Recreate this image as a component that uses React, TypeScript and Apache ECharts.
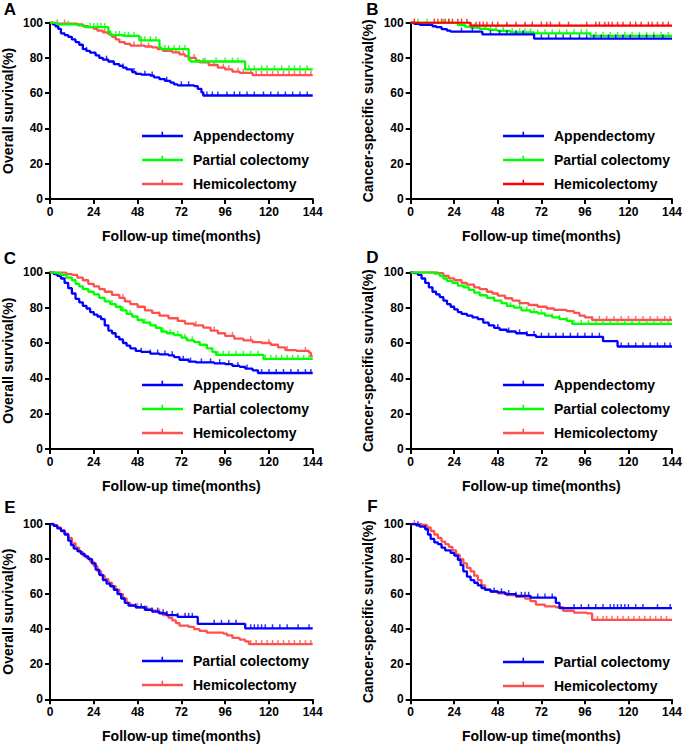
import React, { useEffect, useRef } from 'react';
import * as echarts from 'echarts';

// ---------- axis ticks / titles ----------
const xTicks = [0, 24, 48, 72, 96, 120, 144];
const yTicks = [0, 20, 40, 60, 80, 100];
const xTitle = 'Follow-up time(months)';
const osTitle = 'Overall survival(%)';
const cssTitle = 'Cancer-specific survival(%)';
const groupNames = ['Appendectomy', 'Partial colectomy', 'Hemicolectomy'];

// ---------- Panel A (overall survival) : [month, survival %] steps ----------
const A_appendectomy = [[0,100],[1.5,99],[3,98],[4.5,96.5],[6,94],[8,93],[10,92],[12,90.5],[14,89],[16,87.5],[18,85],[20,84],[22,83],[25,81.5],[27,80],[29,79],[32,78],[35,76.5],[38,75.5],[40,74.5],[42,73.5],[45,72],[47,71],[50,70.5],[55,70],[57,69],[60,68],[63,67],[66,66],[68,65],[70,64.5],[79,64],[81,62.5],[83,60.5],[84,58.7],[144,58.7]];
const A_partial = [[0,100],[4,99],[15,98.5],[19,97.5],[32,95],[33,93],[40,92.5],[49,90],[60,86],[61,85],[76,79],[77,78],[107,73.5],[144,73.5]];
const A_hemi = [[0,100],[3,99.5],[15,99],[18,98],[21,97.5],[24,96.5],[26,95.5],[29,94.5],[32,93.5],[34,92],[36,90.5],[38,89],[41,88],[44,87],[52,86.5],[56,86],[59,85],[62,84],[67,83.2],[71,82],[74,81],[76,80],[80,78.5],[82,77.5],[87,76],[92,74.5],[96,73.5],[100,72.2],[104,71.5],[111,70.3],[144,70.3]];
const A_appendectomyCensor = [20,31,40,46,52,56,64,72,76,86,89,92,97,101,104,108,112,117,121,125,129,133,137,141];
const A_partialCensor = [10,22,24,26,28,30,36,38,41,43,46,50,52,55,58,63,65,68,71,74,80,85,91,96,100,103,109,112,116,119,123,127,131,134,137,141];
const A_hemiCensor = [4,8,30,46,50,54,65,69,73,79,84,90,95,98,103,106,110,113,116,119,122,125,128,131,134,137,140,143];

// ---------- Panel B (cancer-specific survival) ----------
const B_appendectomy = [[0,100],[2,99.3],[5,98.8],[12,98],[14,97.5],[17,96.4],[20,95.5],[22,94.9],[39.5,93.4],[68,91],[144,91]];
const B_partial = [[0,100],[14,100],[26,98.7],[30,97.8],[33,97.2],[38,96.5],[43,95.9],[48,95.3],[55,94.5],[68,94],[99,92.5],[144,92.5]];
const B_hemi = [[0,100],[33,98.3],[144,98.3]];
const B_appendectomyCensor = [28,34,44,49,53,58,62,72,76,80,84,88,93,97,101,105,109,113,117,121,126,130,134,139];
const B_partialCensor = [4,9,18,21,35,38,41,44,47,51,56,60,63,66,70,74,78,82,86,90,94,97,102,106,110,114,118,122,126,130,134,138,142];
const B_hemiCensor = [2,13,15,17,19,21,23,26,28,31,36,38,40,42,45,48,53,58,63,67,72,75,77,82,87,97,102,104,107,109,111,114,117,121,124,127,131,133,136,139,142];

// ---------- Panel C (overall survival) ----------
const C_appendectomy = [[0,100],[2,99],[4,98],[6,96.5],[8,94],[10,91],[12,88],[14,85],[16,83],[18,81],[20,79.5],[22,77.5],[24,76],[26,75],[28,73.5],[30,70],[32,67],[34,65.5],[36,63.5],[38,62],[40,60],[42,58.5],[44,57],[47,55.5],[50,55],[55,54],[60,53.5],[65,53],[68,52],[71,50.5],[76,49.5],[80,49],[90,48.5],[96,48],[100,47],[104,46.5],[107,45.5],[111,44.5],[114,43],[144,43]];
const C_partial = [[0,100],[3,99.5],[6,98.5],[9,97],[12,95.5],[14,93.5],[16,92],[18,90.5],[21,89],[24,87.5],[27,85.5],[30,83.5],[33,82],[36,80.5],[39,78.5],[42,76.5],[45,75],[48,73],[51,71.5],[55,70],[58,68.5],[61,66.5],[64,65.5],[68,64.5],[72,63],[75,61.5],[79,60.5],[82,59],[86,57],[89,55],[91,53.3],[117,51],[144,51]];
const C_hemi = [[0,100],[5,99.8],[9,99],[12,98.5],[15,97],[18,95.5],[21,93.5],[24,92],[27,90.5],[30,89],[34,87.2],[38,85.5],[41,83.5],[44,82],[48,80.5],[52,78.5],[56,77],[60,75.5],[65,74],[70,72.5],[74,71],[79,70],[84,68.7],[88,67],[92,65.5],[96,64],[101,62.5],[106,61.5],[111,60.5],[116,60],[121,59],[125,57.5],[129,56],[135,55.5],[142,54.5],[143,52.5],[144,52.5]];
const C_appendectomyCensor = [50,55,59,63,67,73,77,83,88,93,98,103,108,116,120,124,128,132,136,140,143];
const C_partialCensor = [34,40,44,48,52,55,58,62,66,70,74,78,82,86,92,95,98,102,106,110,114,118,121,124,127,130,133,136,139,142];
const C_hemiCensor = [40,60,70,80,90,100,110,120,130,140];

// ---------- Panel D (cancer-specific survival) ----------
const D_appendectomy = [[0,100],[2,99.5],[4,98.5],[6,96.5],[8,94],[10,91.5],[12,89],[14,87.5],[16,86],[18,84],[20,82],[22,80.5],[24,79],[26,77.5],[28,76.5],[31,75.5],[34,74.5],[37,73.5],[40,71.5],[43,70],[46,68.5],[49,67.5],[53,66.5],[58,65.5],[64,64.5],[69,63.5],[106,61],[114,58],[144,58]];
const D_partial = [[0,100],[10,100],[13,99.3],[16,98],[18,96.5],[20,95],[23,94],[26,92.5],[29,91.5],[32,90],[35,88.5],[38,87],[42,85.5],[46,84],[50,82.5],[53,81],[57,80],[61,78.5],[66,77.5],[70,76.8],[74,75.5],[78,74.5],[82,73.5],[86,72.5],[89,70.8],[144,70.8]];
const D_hemi = [[0,100],[12,100],[15,99.5],[18,98],[21,96.6],[24,95.5],[28,94],[31,93],[35,91.5],[38,90.5],[42,89],[45,88],[48,86.8],[52,85.3],[56,84],[60,82.5],[65,81.5],[70,80.5],[75,79.5],[79,78.7],[86,78],[90,77],[93,75.5],[96,74.5],[100,73],[144,73]];
const D_appendectomyCensor = [48,54,60,64,68,72,76,80,84,88,92,96,100,104,116,120,124,128,132,136,140,143];
const D_partialCensor = [30,38,46,55,60,64,68,72,78,82,86,90,94,98,102,106,110,114,118,122,126,130,134,138,142];
const D_hemiCensor = [100,104,108,112,116,120,124,128,132,136,140,143];

// ---------- Panel E (overall survival) ----------
const E_partial = [[0,100],[2,99],[4,97.5],[6,96],[8,94],[10,90.5],[11.5,88],[13,86],[15,84.5],[17,83],[19,81.5],[21,80],[23,77.5],[25,74],[27,71],[29,68],[31,66],[33,64.5],[35,62.5],[37,60],[39,57.5],[41,55],[43,53.5],[47,52.5],[52,51],[56,50],[60,49],[64,48],[70,47],[81,43],[107,40.5],[144,40.5]];
const E_hemi = [[0,100],[2,99.3],[4,98],[6,96.5],[8,94.5],[10,92],[12,89],[14,86.5],[16,84],[18,82],[20,80.5],[22,78.5],[24,76],[26,73],[28,70.5],[30,68.5],[32,66.5],[34,64.5],[36,62.5],[38,60],[40,57.5],[42,55],[44,53.5],[47,52.5],[52,51.5],[56,50.5],[59,49.5],[62,48],[65,46.5],[67,45],[69,43.5],[71,42],[76,41.3],[79,40],[82,39],[86,38],[95,37.5],[97,36.5],[100,35],[104,34],[107,33],[109,31.5],[144,31.5]];
const E_partialCensor = [47,50,53,56,59,62,64,67,70,74,76,78,90,94,98,102,110,112,114,116,118,122,126,130,136,142];
const E_hemiCensor = [48,52,60,64,110,113,116,119,122,125,128,131,134,137,140,143];

// ---------- Panel F (cancer-specific survival) ----------
const F_partial = [[0,100],[3,99.3],[5,98.5],[8,97],[9.5,94],[11,91.5],[13,89.5],[15,88.5],[17,86.5],[19,85],[22,83.5],[24,82],[26,79.5],[27.5,76.5],[29,73],[31,70],[33,68],[35,66.5],[37,65],[39,63.5],[41,62.5],[44,61.5],[48,61],[52,60],[58,59],[66,58],[80,55],[82,52],[144,52]];
const F_hemi = [[0,100],[6,99.5],[9,98],[11,96],[13,94],[15,92],[17,90],[19,88.5],[21,87],[23,85],[25,82.5],[27,80],[29,77.5],[31,75],[33,73],[35,70.5],[37,68],[39,65],[41,62.5],[44,61.5],[48,60.5],[53,59.5],[58,58.5],[63,57.5],[66,56],[69,54],[74,53],[80,52.5],[84,50.5],[90,49.5],[97,49],[100,45.3],[144,45.3]];
const F_partialCensor = [4,8,46,50,54,58,61,63,65,70,74,78,90,94,98,102,106,110,112,114,116,118,120,124,128,136,143];
const F_hemiCensor = [2,100,103,106,108,111,114,117,120,123,126,129,132,135,138,141];

// ---------- styling / layout ----------
const FONT = '"Liberation Sans", Arial, Helvetica, sans-serif';
const BLUE = '#0000ff';
const GREEN = '#00ff00';
const SALMON = '#ff5050';
const RED = '#ff0000';

type Curve = { name: string; color: string; steps: number[][]; censor: number[] };
type Panel = {
  letter: string; yTitle: string;
  grid: { left: number; top: number; width: number; height: number };
  letterPos: [number, number];
  legend: { left: number; top: number };
  yNameGap: number;
  curves: Curve[]; // legend order
  drawOrder: number[];
};

const panels: Panel[] = [
  {
    letter: 'A', yTitle: osTitle, grid: { left: 49, top: 22.7, width: 263.7, height: 176.3 },
    letterPos: [10, 9.5], legend: { left: 142, top: 128 }, yNameGap: 35,
    curves: [
      { name: groupNames[0], color: BLUE, steps: A_appendectomy, censor: A_appendectomyCensor },
      { name: groupNames[1], color: GREEN, steps: A_partial, censor: A_partialCensor },
      { name: groupNames[2], color: SALMON, steps: A_hemi, censor: A_hemiCensor },
    ], drawOrder: [0, 2, 1],
  },
  {
    letter: 'B', yTitle: cssTitle, grid: { left: 410.7, top: 22.7, width: 263.6, height: 176.3 },
    letterPos: [372.5, 9], legend: { left: 503, top: 128 }, yNameGap: 36,
    curves: [
      { name: groupNames[0], color: BLUE, steps: B_appendectomy, censor: B_appendectomyCensor },
      { name: groupNames[1], color: GREEN, steps: B_partial, censor: B_partialCensor },
      { name: groupNames[2], color: RED, steps: B_hemi, censor: B_hemiCensor },
    ], drawOrder: [1, 0, 2],
  },
  {
    letter: 'C', yTitle: osTitle, grid: { left: 49, top: 272.3, width: 263.7, height: 176.7 },
    letterPos: [10, 258], legend: { left: 142, top: 377 }, yNameGap: 35,
    curves: [
      { name: groupNames[0], color: BLUE, steps: C_appendectomy, censor: C_appendectomyCensor },
      { name: groupNames[1], color: GREEN, steps: C_partial, censor: C_partialCensor },
      { name: groupNames[2], color: SALMON, steps: C_hemi, censor: C_hemiCensor },
    ], drawOrder: [0, 2, 1],
  },
  {
    letter: 'D', yTitle: cssTitle, grid: { left: 410.7, top: 272.3, width: 263.6, height: 176.7 },
    letterPos: [372.5, 257], legend: { left: 503, top: 377 }, yNameGap: 36,
    curves: [
      { name: groupNames[0], color: BLUE, steps: D_appendectomy, censor: D_appendectomyCensor },
      { name: groupNames[1], color: GREEN, steps: D_partial, censor: D_partialCensor },
      { name: groupNames[2], color: SALMON, steps: D_hemi, censor: D_hemiCensor },
    ], drawOrder: [0, 2, 1],
  },
  {
    letter: 'E', yTitle: osTitle, grid: { left: 49, top: 524, width: 263.7, height: 175.3 },
    letterPos: [10, 507.5], legend: { left: 142, top: 653 }, yNameGap: 35,
    curves: [
      { name: groupNames[1], color: BLUE, steps: E_partial, censor: E_partialCensor },
      { name: groupNames[2], color: SALMON, steps: E_hemi, censor: E_hemiCensor },
    ], drawOrder: [1, 0],
  },
  {
    letter: 'F', yTitle: cssTitle, grid: { left: 410.7, top: 524, width: 263.6, height: 175.3 },
    letterPos: [372.5, 506], legend: { left: 503, top: 654 }, yNameGap: 36,
    curves: [
      { name: groupNames[1], color: BLUE, steps: F_partial, censor: F_partialCensor },
      { name: groupNames[2], color: SALMON, steps: F_hemi, censor: F_hemiCensor },
    ], drawOrder: [1, 0],
  },
];

function survivalAt(steps: number[][], t: number): number {
  let v = steps[0][1];
  for (const [x, y] of steps) {
    if (x <= t) v = y; else break;
  }
  return v;
}

const LEGEND_ICON = 'path://M0,3h41v2.5h-41z M19.5,0h1.6v3h-1.6z M0,8.5h0.05v0.05h-0.05z';

function buildOption() {
  const grid: any[] = [];
  const xAxis: any[] = [];
  const yAxis: any[] = [];
  const series: any[] = [];
  const legend: any[] = [];
  const graphic: any[] = [];
  const labelStyle = { fontSize: 12, fontWeight: 'bold', color: '#000', fontFamily: FONT };
  const nameStyle = { fontSize: 14, fontWeight: 'bold', color: '#000', fontFamily: FONT };

  panels.forEach((p, i) => {
    grid.push({ ...p.grid, containLabel: false });
    xAxis.push({
      gridIndex: i, type: 'value', min: xTicks[0], max: xTicks[xTicks.length - 1], interval: xTicks[1] - xTicks[0],
      axisLine: { show: true, onZero: false, lineStyle: { color: '#000', width: 2 } },
      axisTick: { show: true, length: 5, lineStyle: { color: '#000', width: 2 } },
      axisLabel: { ...labelStyle, margin: 7, showMinLabel: true, showMaxLabel: true },
      splitLine: { show: false },
      name: xTitle, nameLocation: 'middle', nameGap: 30, nameTextStyle: nameStyle,
    });
    yAxis.push({
      gridIndex: i, type: 'value', min: yTicks[0], max: yTicks[yTicks.length - 1], interval: yTicks[1] - yTicks[0],
      axisLine: { show: true, onZero: false, lineStyle: { color: '#000', width: 2 } },
      axisTick: { show: true, length: 5, lineStyle: { color: '#000', width: 2 } },
      axisLabel: { ...labelStyle, margin: 7, showMinLabel: true, showMaxLabel: true },
      splitLine: { show: false },
      name: p.yTitle, nameLocation: 'middle', nameGap: p.yNameGap, nameTextStyle: nameStyle,
    });

    p.drawOrder.forEach((ci, k) => {
      const c = p.curves[ci];
      series.push({
        name: c.name, type: 'line', step: 'end', xAxisIndex: i, yAxisIndex: i,
        data: c.steps, symbol: 'none', showSymbol: false,
        lineStyle: { color: c.color, width: 2.3 }, itemStyle: { color: c.color },
        z: 2 + k, silent: true,
      });
      series.push({
        name: c.name, type: 'scatter', xAxisIndex: i, yAxisIndex: i,
        data: c.censor.map((t) => [t, survivalAt(c.steps, t)]),
        symbol: 'rect', symbolSize: [1.5, 4.5], symbolOffset: [0, -1.8],
        itemStyle: { color: c.color }, z: 2 + k, silent: true,
      });
    });

    legend.push({
      left: p.legend.left, top: p.legend.top, orient: 'vertical', padding: 0,
      itemWidth: 41, itemHeight: 8.55, itemGap: 8, selectedMode: false,
      icon: LEGEND_ICON,
      textStyle: { fontSize: 14, fontWeight: 'bold', color: '#000', fontFamily: FONT, lineHeight: 16, padding: [0, 0, 0, 5] },
      data: p.curves.map((c) => ({
        name: c.name,
        icon: LEGEND_ICON,
        itemStyle: { color: c.color, borderColor: c.color, borderWidth: 0 },
        lineStyle: { color: c.color },
      })),
    });

    graphic.push({
      type: 'text', x: p.letterPos[0], y: p.letterPos[1], silent: true,
      style: { text: p.letter, fontSize: 17, fontWeight: 'bold', fontFamily: FONT, fill: '#000', align: 'center', verticalAlign: 'middle' },
    });
  });

  return { animation: false, backgroundColor: '#fff', grid, xAxis, yAxis, series, legend, graphic };
}

export default function App() {
  const ref = useRef<HTMLDivElement>(null);
  useEffect(() => {
    document.body.style.margin = '0';
    if (!ref.current) return;
    const chart = echarts.init(ref.current, null, { renderer: 'svg' });
    chart.setOption(buildOption() as any);
    return () => chart.dispose();
  }, []);
  return <div ref={ref} style={{ width: 685, height: 745 }} />;
}
